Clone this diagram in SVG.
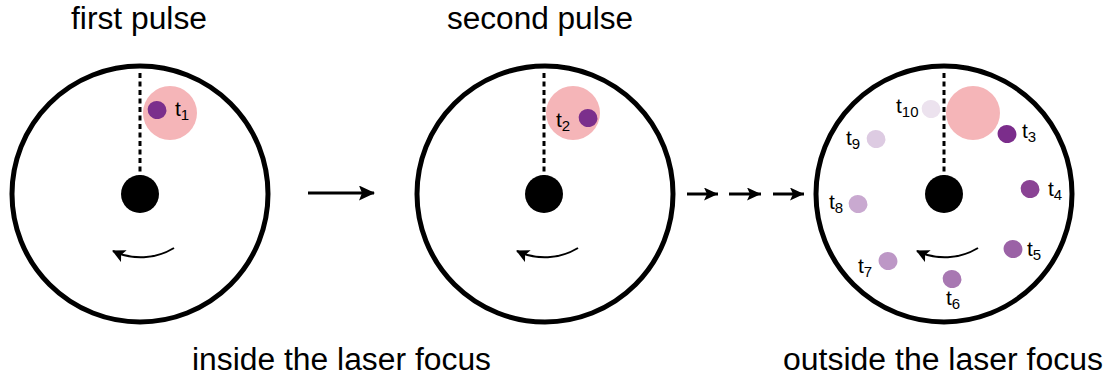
<svg xmlns="http://www.w3.org/2000/svg" width="1113" height="378" viewBox="0 0 1113 378">
<style>
text{font-family:"Liberation Sans",Arial,sans-serif;fill:#000}
.title{font-size:31px}
.lab{font-size:21px}
.sub{font-size:15px}
.disk{fill:#fff;stroke:#000;stroke-width:5}
.hub{fill:#000}
.dash{stroke:#000;stroke-width:3;stroke-dasharray:5 3.5;fill:none}
.focus{fill:#f5b5b8}
.rot{fill:none;stroke:#000;stroke-width:2}
.arr{fill:none;stroke:#000;stroke-width:3}
</style>
<defs>
<marker id="rh" markerUnits="userSpaceOnUse" markerWidth="15" markerHeight="13" refX="12" refY="6.5" orient="auto">
<path d="M0,0 L13,6.5 L0,13 L3,6.5 Z" fill="#000"/>
</marker>
<marker id="ah" markerUnits="userSpaceOnUse" markerWidth="17" markerHeight="15" refX="15" refY="7.5" orient="auto">
<path d="M0,0 L16,7.5 L0,15 L3,7.5 Z" fill="#000"/>
</marker>
<marker id="ahs" markerUnits="userSpaceOnUse" markerWidth="15" markerHeight="13" refX="14" refY="6.5" orient="auto">
<path d="M0,0 L14,6.5 L0,13 L3,6.5 Z" fill="#000"/>
</marker>
</defs>

<text class="title" x="71" y="29" textLength="136" lengthAdjust="spacingAndGlyphs">first pulse</text>
<text class="title" x="447" y="29" textLength="186" lengthAdjust="spacingAndGlyphs">second pulse</text>
<text class="title" x="192" y="370" textLength="299" lengthAdjust="spacingAndGlyphs">inside the laser focus</text>
<text class="title" x="783" y="370" textLength="320" lengthAdjust="spacingAndGlyphs">outside the laser focus</text>

<g id="disk1">
<circle class="disk" cx="140" cy="194" r="128"/>
<line class="dash" x1="140" y1="73" x2="140" y2="176"/>
<circle class="hub" cx="140" cy="194" r="19"/>
<circle class="focus" cx="170" cy="113" r="27"/>
<ellipse cx="157" cy="110" rx="9.5" ry="9" fill="#7b2f8c" transform="rotate(25 157 110)"/>
<text class="lab" x="175" y="116">t<tspan class="sub" dy="4">1</tspan></text>
<path class="rot" d="M174,248 A64,64 0 0 1 113,251" marker-end="url(#rh)"/>
</g>

<g id="disk2">
<circle class="disk" cx="545" cy="194" r="128"/>
<line class="dash" x1="544" y1="73" x2="544" y2="176"/>
<circle class="hub" cx="544" cy="194" r="19"/>
<circle class="focus" cx="573" cy="113" r="27"/>
<ellipse cx="588" cy="118" rx="9.5" ry="9" fill="#7b2f8c" transform="rotate(25 588 118)"/>
<text class="lab" x="556" y="127">t<tspan class="sub" dy="4">2</tspan></text>
<path class="rot" d="M578,248 A64,64 0 0 1 517,251" marker-end="url(#rh)"/>
</g>

<g id="disk3">
<circle class="disk" cx="944" cy="194" r="128"/>
<line class="dash" x1="944" y1="73" x2="944" y2="176"/>
<circle class="hub" cx="944" cy="194" r="19"/>
<circle class="focus" cx="973" cy="113" r="27"/>
<ellipse cx="931" cy="109" rx="9.5" ry="9" fill="#ece2ee" transform="rotate(25 931 109)"/>
<ellipse cx="1007" cy="134" rx="9.5" ry="9" fill="#7b2d8b" transform="rotate(25 1007 134)"/>
<ellipse cx="876" cy="139" rx="9.5" ry="9" fill="#ddcbe2" transform="rotate(25 876 139)"/>
<ellipse cx="1030" cy="189" rx="9.5" ry="9" fill="#8a4394" transform="rotate(25 1030 189)"/>
<ellipse cx="858" cy="204" rx="9.5" ry="9" fill="#c9a9d0" transform="rotate(25 858 204)"/>
<ellipse cx="1013" cy="249" rx="9.5" ry="9" fill="#9b62a6" transform="rotate(25 1013 249)"/>
<ellipse cx="888" cy="261" rx="9.5" ry="9" fill="#bd97c6" transform="rotate(25 888 261)"/>
<ellipse cx="952" cy="279" rx="9.5" ry="9" fill="#a878b2" transform="rotate(25 952 279)"/>
<text class="lab" x="896" y="113">t<tspan class="sub" dy="4">10</tspan></text>
<text class="lab" x="1022" y="138">t<tspan class="sub" dy="4">3</tspan></text>
<text class="lab" x="846" y="145">t<tspan class="sub" dy="4">9</tspan></text>
<text class="lab" x="1048" y="196">t<tspan class="sub" dy="4">4</tspan></text>
<text class="lab" x="829" y="209">t<tspan class="sub" dy="4">8</tspan></text>
<text class="lab" x="1027" y="256">t<tspan class="sub" dy="4">5</tspan></text>
<text class="lab" x="858" y="273">t<tspan class="sub" dy="4">7</tspan></text>
<text class="lab" x="946" y="305">t<tspan class="sub" dy="4">6</tspan></text>
<path class="rot" d="M978,248 A64,64 0 0 1 917,251" marker-end="url(#rh)"/>
</g>

<g id="connectors">
<line class="arr" x1="308" y1="193" x2="374" y2="193" marker-end="url(#ah)"/>
<line class="arr" x1="687" y1="194" x2="718" y2="194" marker-end="url(#ahs)"/>
<line class="arr" x1="729" y1="194" x2="761" y2="194" marker-end="url(#ahs)"/>
<line class="arr" x1="773" y1="194" x2="804" y2="194" marker-end="url(#ahs)"/>
</g>
</svg>
